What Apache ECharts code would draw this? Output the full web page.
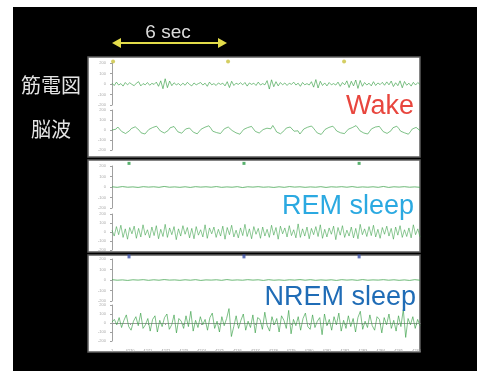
<!DOCTYPE html>
<html>
<head>
<meta charset="utf-8">
<script src="https://cdn.jsdelivr.net/npm/echarts@6/dist/echarts.min.js"></script>
<style>
	body { margin: 0; background: #fff; }
	#back { position: absolute; left: 13px; top: 7px; width: 464px; height: 364px; background: #000; }
	#main { position: absolute; left: 0; top: 0; width: 477px; height: 371px; }
</style>
</head>
<body>
<div id="back"></div>
<div id="main"></div>
<script>
	// 睡眠ステージごとの筋電図(EMG)と脳波(EEG)
	var stages = ['Wake', 'REM sleep', 'NREM sleep'];
	var stageColors = ['#e8463e', '#2ba9e1', '#1f6cb6'];
	var markerColors = ['#c9c23c', '#2e9e4a', '#3a4fa8'];
	var xTickLabels = ['1', '4270', '4271', '4272', '4273', '4274', '4275', '4276', '4277', '4278',
		'4279', '4280', '4281', '4282', '4283', '4284', '4285', '4286'];
	var yTicks = [-200, -100, 0, 100, 200];

	// エポックのマーカー位置 (目盛単位)
	var wakeMarks = [0.06, 6.48, 12.96];
	var remMarks = [0.95, 7.37, 13.8];
	var nremMarks = [0.95, 7.37, 13.8];

	var wakeEmg = [8, -15, 18, -10, 4, -20, 14, -8, 12, -4, -16, 8, 22, -18, 4, -8, 14, -12, 6, -4,
		18, -22, 30, -45, 50, -35, 28, -16, 12, -8, 4, -14, 8, -12, 16, -4, -18, 10, -8, 4,
		14, -10, 8, -22, 18, -8, 4, -14, 10, -4, 8, -18, 22, -34, 26, -14, 8, -4, 12, -8,
		14, -20, 10, -4, 8, -14, 18, -10, 4, -8, 32, -48, 40, -26, 22, -18, 14, -8, 10, -14,
		8, -4, 18, -10, 8, -22, 14, -8, 4, -10, 22, -30, 42, -38, 26, -14, 10, -18, 14, -8,
		4, -10, 18, -22, 14, -8, 30, -34, 26, -18, 38, -42, 34, -22, 14, -10, 8, -18, 22, -14,
		10, -6, 16, -12, 20, -8, 28, -24, 12, -16, 30, -36, 24, -12, 8, -20, 16, -10, 14, -6];
	var wakeEeg = [0, 18, 8, 30, 12, -15, -5, -35, -18, -8, 15, 5, 32, 20, -2, -28, -12, -40, -22, 5,
		-8, 25, 12, 38, 20, -10, 2, -30, -15, -5, 22, 8, 35, 15, -18, -6, -32, -14, 10, -4,
		20, 6, -22, -10, -38, -15, 8, -5, 28, 14, 42, 18, -12, 4, -26, -10, -35, -20, 12, -2,
		30, 16, -5, 10, -28, -14, -42, -18, 6, -8, 24, 10, 36, 22, -14, 2, -30, -16, 4, -10,
		18, 32, 12, 45, 15, -20, -6, -38, -22, -4, 20, 8, 30, 14, -12, -26, -8, -40, -16, 10,
		-4, 28, 12, 40, 18, -6, -30, -14, -44, -20, 6, -8, 26, 14, 38, 16, -10, 4, -28, -12,
		-36, -18, 8, -6, 24, 12, 44, 20, -8, 6, -30, -16, -40, -14, 12, -2, 30, 18, 36, 10,
		-16, -4, -34, -20, -8, 22, 6, 38, 16, -12, 2, -28, -14, -42, -18, 10, -4, 26, 14, -6];
	var remEmg = [2, -3, 4, -2, 1, -4, 3, -1, 2, -3, 5, -2, 1, -3, 2, -4, 3, -1, 2, -2,
		4, -3, 1, -2, 3, -5, 2, -1, 3, -2, 1, -4, 2, -3, 4, -1, 2, -3, 1, -2,
		3, -4, 2, -1, 3, -2, 4, -3, 1, -2, 2, -3, 5, -4, 2, -1, 3, -2, 1, -3];
	var remEeg = [20, -45, 60, -30, 75, -60, 35, -80, 50, -20, 65, -70, 40, -55, 80, -35, 25, -65, 55, -40,
		70, -75, 30, -50, 85, -60, 45, -30, 60, -85, 35, -45, 70, -25, 50, -65, 40, -75, 60, -35,
		25, -55, 80, -70, 45, -20, 55, -60, 30, -45, 65, -80, 50, -30, 75, -55, 20, -65, 45, -40,
		85, -50, 35, -75, 60, -25, 40, -70, 55, -45, 30, -60, 75, -35, 50, -80, 65, -20, 45, -55,
		70, -40, 25, -65, 90, -60, 35, -45, 55, -75, 40, -30, 60, -50, 80, -70, 30, -55, 45, -25,
		65, -85, 50, -35, 70, -60, 20, -45, 55, -65, 40, -75, 85, -30, 35, -50, 60, -40, 75, -55,
		30, -70, 50, -25, 65, -45, 40, -80, 55, -35, 70, -60, 25, -50, 45, -65, 80, -30, 35, -55];
	var nremEmg = [3, -2, 1, -4, 2, -1, 3, -3, 2, -2, 4, -1, 1, -3, 2, -2, 3, -4, 1, -1,
		2, -3, 4, -2, 1, -2, 3, -1, 2, -4, 3, -2, 1, -3, 2, -1, 4, -2, 3, -3,
		1, -2, 2, -4, 3, -1, 2, -3, 4, -2, 1, -1, 3, -2, 2, -3, 1, -4, 3, -2];
	var nremEeg = [10, 40, -20, 60, -50, 30, 90, -40, -80, 20, 70, -30, 110, -60, -20, 50, -90, 40, 80, -100,
		30, -40, 60, 100, -70, -20, 90, -110, 50, 20, -60, 80, -40, 130, -90, 30, -50, 70, -20, 40,
		-80, 60, 110, -60, 20, -100, 70, -30, 50, 160, -150, -40, 80, -60, 30, 100, -80, 20, -50, 90,
		-110, 60, 40, -70, 120, -30, -90, 70, -20, 50, -100, 80, 30, -60, 140, -120, 40, -30, 70, -80,
		50, 110, -40, -70, 90, -50, 20, 60, -130, 100, -30, 40, -80, 70, -20, 110, -90, 30, -60, 80,
		-40, 50, -100, 60, 130, -70, 20, -50, 90, -30, -80, 70, 40, -110, 60, -20, 100, -60, 30, -90,
		80, -40, 150, -160, 50, -20, 70, -60, 40, -30];

	var xMax = 17.2;
	var traceGreen = 'rgba(52,158,66,0.8)';

	// サンプル番号を時間軸に並べる
	function toPoints(arr) {
		return arr.map(function(v, i) {
			return [i * xMax / (arr.length - 1), v];
		});
	}

	var chart = echarts.init(document.getElementById('main'));

	var grids = [
		// パネル (白背景)
		{ left: 88, top: 57, width: 332, height: 100, show: true, backgroundColor: '#fff', borderColor: '#5e5e5e', borderWidth: 1.5 },
		{ left: 88, top: 160, width: 332, height: 92, show: true, backgroundColor: '#fff', borderColor: '#5e5e5e', borderWidth: 1.5 },
		{ left: 88, top: 255, width: 332, height: 97, show: true, backgroundColor: '#fff', borderColor: '#5e5e5e', borderWidth: 1.5 },
		// 波形
		{ left: 112, top: 63, width: 308, height: 42 },
		{ left: 112, top: 110, width: 308, height: 40 },
		{ left: 112, top: 166, width: 308, height: 42 },
		{ left: 112, top: 214, width: 308, height: 36 },
		{ left: 112, top: 259, width: 308, height: 42 },
		{ left: 112, top: 305, width: 308, height: 36 }
	];

	var xAxes = [];
	var yAxes = [];
	for (var i = 0; i < 3; i++) {
		xAxes.push({ gridIndex: i, type: 'value', min: 0, max: 1, show: false });
		yAxes.push({ gridIndex: i, type: 'value', min: 0, max: 1, show: false });
	}
	for (var j = 3; j < 9; j++) {
		var isLast = j === 8;
		xAxes.push({
			gridIndex: j,
			type: 'value',
			min: 0,
			max: xMax,
			interval: 1,
			show: isLast,
			offset: 6,
			axisLine: { lineStyle: { color: '#9a9a9a', width: 1 } },
			axisTick: { length: 2, lineStyle: { color: '#9a9a9a' } },
			axisLabel: {
				fontSize: 4,
				color: '#999',
				margin: 2,
				formatter: function(v) {
					return xTickLabels[Math.round(v)] || '';
				}
			},
			splitLine: { show: false }
		});
		yAxes.push({
			gridIndex: j,
			type: 'value',
			min: yTicks[0],
			max: yTicks[yTicks.length - 1],
			interval: 100,
			offset: 4,
			axisLine: { show: true, lineStyle: { color: '#a0a0a0', width: 1 } },
			axisTick: { show: true, length: 2, lineStyle: { color: '#a0a0a0' } },
			axisLabel: { fontSize: 4, color: '#aaa', margin: 2 },
			splitLine: { show: false }
		});
	}

	function trace(idx, arr, width) {
		return {
			type: 'line',
			xAxisIndex: idx,
			yAxisIndex: idx,
			data: toPoints(arr),
			symbol: 'none',
			silent: true,
			lineStyle: { color: traceGreen, width: width }
		};
	}

	function marks(idx, arr, yv, color, symbol, size) {
		return {
			type: 'scatter',
			xAxisIndex: idx,
			yAxisIndex: idx,
			clip: false,
			symbol: symbol,
			symbolSize: size,
			itemStyle: { color: color },
			data: arr.map(function(x) { return [x, yv]; })
		};
	}

	var labelFont = '"Noto Sans CJK JP", sans-serif';

	chart.setOption({
		animation: false,
		backgroundColor: 'transparent',
		grid: grids,
		xAxis: xAxes,
		yAxis: yAxes,
		series: [
			trace(3, wakeEmg, 0.8),
			trace(4, wakeEeg, 0.8),
			trace(5, remEmg, 0.9),
			trace(6, remEeg, 0.7),
			trace(7, nremEmg, 0.9),
			trace(8, nremEeg, 0.8),
			marks(3, wakeMarks, 215, markerColors[0], 'circle', 4),
			marks(5, remMarks, 225, markerColors[1], 'rect', [3, 3]),
			marks(7, nremMarks, 225, markerColors[2], 'rect', [3, 4])
		],
		graphic: [
			{ type: 'text', left: 21, top: 75, z: 10,
				style: { text: '筋電図', font: '20px ' + labelFont, fill: '#e4e4e4' } },
			{ type: 'text', left: 31, top: 119, z: 10,
				style: { text: '脳波', font: '20px ' + labelFont, fill: '#e4e4e4' } },
			{ type: 'text', x: 168, y: 33, z: 10,
				style: { text: '6 sec', font: '19px "Liberation Sans", Arial, sans-serif', fill: '#dcdcdc', align: 'center', verticalAlign: 'middle' } },
			{ type: 'line', z: 10,
				shape: { x1: 118, y1: 43, x2: 221, y2: 43 },
				style: { stroke: '#e3dc4a', lineWidth: 2 } },
			{ type: 'polygon', z: 10,
				shape: { points: [[112, 43], [121, 38], [121, 48]] },
				style: { fill: '#e3dc4a' } },
			{ type: 'polygon', z: 10,
				shape: { points: [[227, 43], [218, 38], [218, 48]] },
				style: { fill: '#e3dc4a' } },
			{ type: 'text', x: 414, y: 107, z: 10,
				style: { text: stages[0], font: '27px "Liberation Sans", Arial, sans-serif', fill: stageColors[0], align: 'right', verticalAlign: 'middle' } },
			{ type: 'text', x: 414, y: 207, z: 10,
				style: { text: stages[1], font: '27px "Liberation Sans", Arial, sans-serif', fill: stageColors[1], align: 'right', verticalAlign: 'middle' } },
			{ type: 'text', x: 416, y: 298, z: 10,
				style: { text: stages[2], font: '27px "Liberation Sans", Arial, sans-serif', fill: stageColors[2], align: 'right', verticalAlign: 'middle' } }
		]
	});
</script>
</body>
</html>
